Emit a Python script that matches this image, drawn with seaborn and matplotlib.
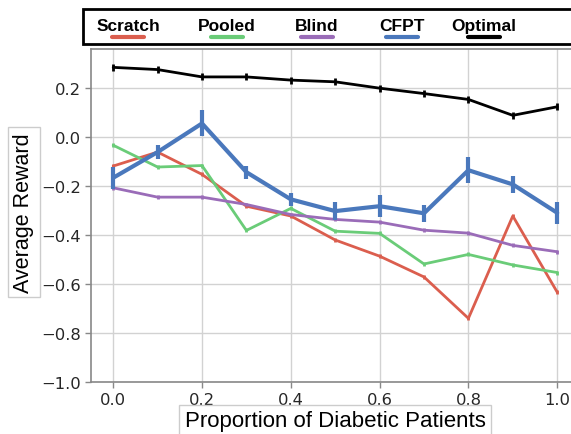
import numpy as np
import pandas as pd
import matplotlib
matplotlib.use("Agg")
import matplotlib.pyplot as plt
from matplotlib.patches import Rectangle
from matplotlib.lines import Line2D
import seaborn as sns

# Proportion of diabetic patients in the target population
proportion = [0.0, 0.1, 0.2, 0.3, 0.4, 0.5, 0.6, 0.7, 0.8, 0.9, 1.0]

# Mean reward per method
scratch = [-0.118, -0.061, -0.152, -0.282, -0.322, -0.420, -0.486, -0.571, -0.740, -0.322, -0.633]
pooled = [-0.033, -0.122, -0.116, -0.381, -0.291, -0.384, -0.393, -0.518, -0.479, -0.522, -0.553]
blind = [-0.207, -0.245, -0.245, -0.275, -0.316, -0.336, -0.347, -0.380, -0.392, -0.442, -0.468]
cfpt = [-0.166, -0.061, 0.056, -0.143, -0.254, -0.302, -0.282, -0.311, -0.135, -0.193, -0.309]
optimal = [0.285, 0.276, 0.246, 0.246, 0.233, 0.226, 0.200, 0.178, 0.154, 0.089, 0.124]

# Standard errors per method
scratch_err = [0.008] * 11
pooled_err = [0.008] * 11
blind_err = [0.008] * 11
cfpt_err = [0.045, 0.029, 0.053, 0.027, 0.026, 0.037, 0.046, 0.035, 0.052, 0.035, 0.046]
optimal_err = [0.014] * 11

methods = ["Scratch", "Pooled", "Blind", "CFPT", "Optimal"]
means = [scratch, pooled, blind, cfpt, optimal]
errors = [scratch_err, pooled_err, blind_err, cfpt_err, optimal_err]

x_ticks = [0.0, 0.2, 0.4, 0.6, 0.8, 1.0]
y_ticks = [-1.0, -0.8, -0.6, -0.4, -0.2, 0.0, 0.2]

sns.set_theme(style="whitegrid")
colors = {"Scratch": "#db5e4e", "Pooled": "#6acc78", "Blind": "#9a6cb8",
          "CFPT": "#4a78bc", "Optimal": "black"}
widths = {"Scratch": 2.0, "Pooled": 2.0, "Blind": 2.0, "CFPT": 3.0, "Optimal": 2.0}

rows = []
for name, m, e in zip(methods, means, errors):
    for p, v, s in zip(proportion, m, e):
        rows.append({"proportion": p, "reward": v, "err": s, "method": name})
df = pd.DataFrame(rows)

fig = plt.figure(figsize=(5.71, 4.35), dpi=100)
ax = fig.add_axes([91 / 571, 52 / 435, 488.4 / 571, 333 / 435])

for name in methods:
    sub = df[df["method"] == name]
    sns.lineplot(data=sub, x="proportion", y="reward", ax=ax, color=colors[name],
                 linewidth=widths[name], legend=False, zorder=3)
    ax.errorbar(sub["proportion"], sub["reward"], yerr=sub["err"], fmt="none",
                ecolor=colors[name], elinewidth=widths[name], capsize=0, zorder=3)

ax.set_xlim(-0.05, 1.05)
ax.set_ylim(-1.0, 0.36)
ax.set_xticks(x_ticks)
ax.set_yticks(y_ticks)
ax.set_xticklabels([f"{t:.1f}" for t in x_ticks], fontsize=11.8,
                   color="#262626", family="DejaVu Sans")
ax.set_yticklabels([f"{t:.1f}".replace("-", "\u2212") for t in y_ticks], fontsize=11.8,
                   color="#262626", family="DejaVu Sans")
ax.tick_params(axis="both", which="both", direction="out", length=4, width=1,
               color="#888888", bottom=True, left=True, pad=3)
ax.grid(True, color="#d2d2d2", linewidth=1)
for side in ["left", "bottom", "top", "right"]:
    ax.spines[side].set_color("#888888")
    ax.spines[side].set_linewidth(1.2)
ax.set_facecolor("white")

box = dict(boxstyle="square,pad=0.25", facecolor="white", edgecolor="#cccccc", linewidth=1)
ax.set_xlabel("")
ax.set_ylabel("")
fig.text(335 / 571, (435 - 422) / 435, "Proportion of Diabetic Patients", color="black",
         family="Liberation Sans", fontsize=16, ha="center", va="center", bbox=box)
fig.text(24 / 571, (435 - 213) / 435, "Average Reward", rotation=90, color="black",
         family="Liberation Sans", fontsize=15.5, ha="center", va="center", bbox=box)

# Legend strip above the axes: labels on top, line swatches underneath
fig.patches.append(Rectangle((83 / 571, (435 - 45) / 435), 500 / 571, 35.5 / 435,
                             transform=fig.transFigure, facecolor="white",
                             edgecolor="black", linewidth=2, zorder=5))
label_x = [128, 227, 317, 401.5, 484]
for name, cx in zip(methods, label_x):
    fig.text(cx / 571, (435 - 26.5) / 435, name, family="Liberation Sans", color="black",
             fontweight="bold", fontsize=12.5, ha="center", va="center", zorder=6)
    fig.lines.append(Line2D([(cx - 16) / 571, (cx + 16) / 571],
                            [(435 - 37.5) / 435] * 2, transform=fig.transFigure,
                            color=colors[name], linewidth=3, zorder=6))

fig.savefig("out.png", dpi=100)
